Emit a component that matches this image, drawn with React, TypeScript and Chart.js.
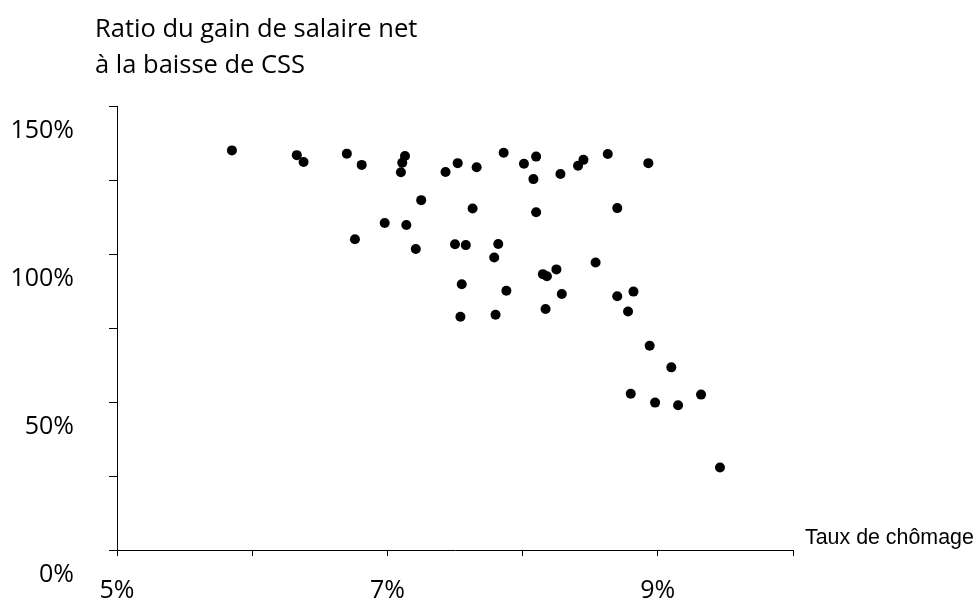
import React, { useEffect, useRef } from "react";
import { Chart, registerables } from "chart.js";

Chart.register(...registerables);

// Taux de chômage (%)
const unemployment: number[] = [
  5.85, 6.33, 6.38, 6.70, 6.81, 6.98, 6.76,
  7.13, 7.11, 7.10, 7.25, 7.14, 7.21,
  7.43, 7.52, 7.66, 7.86, 8.01, 8.10, 8.08, 8.28, 8.41, 8.45, 8.63, 8.93,
  7.63, 8.10, 8.70,
  7.50, 7.58, 7.82, 7.79, 8.54, 8.15, 8.18, 8.25,
  7.55, 7.88, 8.29, 8.70, 8.82,
  7.54, 7.80, 8.17, 8.78,
  8.94, 9.10, 8.80, 8.98, 9.15, 9.32, 9.46,
];

// Ratio du gain de salaire net à la baisse de CSS (%)
const ratio: number[] = [
  135.0, 133.4, 131.1, 133.9, 130.1, 110.5, 105.0,
  133.1, 130.8, 127.6, 118.2, 109.8, 101.7,
  127.7, 130.7, 129.3, 134.2, 130.5, 132.9, 125.3, 127.0, 129.8, 131.8, 133.8, 130.7,
  115.4, 114.1, 115.5,
  103.3, 103.0, 103.4, 98.8, 97.1, 93.2, 92.5, 94.8,
  89.8, 87.6, 86.5, 85.7, 87.3,
  78.8, 79.5, 81.4, 80.6,
  69.0, 61.7, 52.8, 49.8, 48.9, 52.5, 27.9,
];

const yLabelValues: number[] = [0, 50, 100, 150];
const xLabelValues: number[] = [5, 7, 9];
const titleLines: string[] = ["Ratio du gain de salaire net", "à la baisse de CSS"];
const xAxisTitle = "Taux de chômage";

const textPlugin = {
  id: "customTexts",
  afterDraw(chart: any) {
    const ctx = chart.ctx;
    ctx.save();
    ctx.fillStyle = "#000";
    ctx.textAlign = "left";
    ctx.textBaseline = "alphabetic";
    ctx.font = "25.5px 'Open Sans'";
    ctx.fillText(titleLines[0], 95, 37);
    ctx.fillText(titleLines[1], 95, 73);
    ctx.font = "21.4px 'Liberation Sans'";
    ctx.fillText(xAxisTitle, 805, 544);
    ctx.restore();
  },
};

export default function App() {
  const ref = useRef<HTMLCanvasElement | null>(null);

  useEffect(() => {
    if (!ref.current) return;
    const points = unemployment.map((x, i) => ({ x, y: ratio[i] }));
    const chart = new Chart(ref.current, {
      type: "scatter",
      data: {
        datasets: [
          {
            data: points,
            backgroundColor: "#000",
            borderColor: "#000",
            borderWidth: 0,
            pointRadius: 5,
            pointHoverRadius: 5,
          },
        ],
      },
      options: {
        responsive: false,
        animation: false,
        events: [],
        layout: { padding: { top: 106, right: 181, left: 0, bottom: 0 } },
        plugins: {
          legend: { display: false },
          tooltip: { enabled: false },
          title: { display: false },
        },
        scales: {
          x: {
            type: "linear",
            min: 5,
            max: 10,
            afterFit(scale: any) {
              scale.height = 51;
            },
            border: { display: true, color: "#000", width: 1 },
            grid: {
              display: true,
              drawOnChartArea: false,
              drawTicks: true,
              tickLength: 6,
              tickColor: "#000",
              tickWidth: 1,
            },
            ticks: {
              stepSize: 1,
              autoSkip: false,
              maxRotation: 0,
              padding: 20,
              color: "#000",
              font: { family: "'Open Sans'", size: 25 },
              callback: (v: any) => {
                const n = Math.round(Number(v) * 1000) / 1000;
                return xLabelValues.includes(n) ? n + "%" : "";
              },
            },
          },
          y: {
            type: "linear",
            min: 0,
            max: 150,
            afterFit(scale: any) {
              scale.width = 117;
            },
            border: { display: true, color: "#000", width: 1 },
            grid: {
              display: true,
              drawOnChartArea: false,
              drawTicks: true,
              tickLength: 8,
              tickColor: "#000",
              tickWidth: 1,
            },
            ticks: {
              stepSize: 25,
              autoSkip: false,
              padding: 35,
              labelOffset: 25,
              color: "#000",
              font: { family: "'Open Sans'", size: 25 },
              callback: (v: any) => {
                const n = Math.round(Number(v));
                return yLabelValues.includes(n) ? n + "%" : "";
              },
            },
          },
        },
      },
      plugins: [textPlugin],
    });
    return () => chart.destroy();
  }, []);

  return (
    <div style={{ position: "absolute", left: 0, top: 0, width: 974, height: 601, background: "#fff" }}>
      <canvas ref={ref} width={974} height={601} style={{ width: 974, height: 601 }} />
    </div>
  );
}
